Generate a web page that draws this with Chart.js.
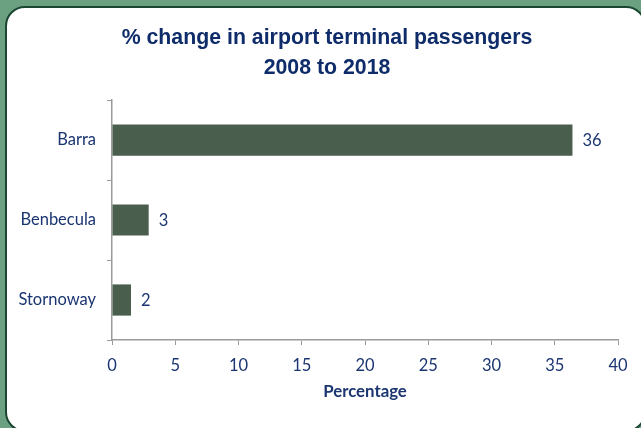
<!DOCTYPE html>
<html>
<head>
<meta charset="utf-8">
<title>% change in airport terminal passengers</title>
<script src="https://cdn.jsdelivr.net/npm/chart.js@4"></script>
<style>
  html, body { margin: 0; padding: 0; }
  body { width: 641px; height: 428px; overflow: hidden; background: #6ba080; position: relative; }
  .panel {
    position: absolute; left: 5px; top: 6px; width: 641px; height: 426px;
    background: #fff; border: 2.5px solid #1b4631; border-radius: 20px; box-sizing: border-box;
  }
  #chart { position: absolute; left: 0; top: 0; }
</style>
</head>
<body>
<div class="panel"></div>
<canvas id="chart" width="641" height="428"></canvas>
<script>
// Airport terminal passengers, % change 2008 to 2018
const airports = ["Barra", "Benbecula", "Stornoway"];
const pctChange = [36.4, 2.9, 1.5];
const xTicks = [0, 5, 10, 15, 20, 25, 30, 35, 40];

const NAVY = "#1a3570";
const AXIS_GREY = "#9a9a9a";
const BAR_GREEN = "#4a5e4e";

// writes the rounded value just past the end of each bar
const barValueLabels = {
  id: "barValueLabels",
  afterDatasetsDraw(chart) {
    const { ctx } = chart;
    const meta = chart.getDatasetMeta(0);
    ctx.save();
    ctx.font = "16.5px Lato";
    ctx.fillStyle = NAVY;
    ctx.textAlign = "left";
    ctx.textBaseline = "middle";
    meta.data.forEach((bar, i) => {
      ctx.fillText(String(Math.round(pctChange[i])), bar.x + 10, bar.y + 1);
    });
    ctx.restore();
  },
};

new Chart(document.getElementById("chart"), {
  type: "bar",
  data: {
    labels: airports,
    datasets: [
      {
        data: pctChange,
        yAxisID: "y",
        backgroundColor: BAR_GREEN,
        barPercentage: 0.39,
        categoryPercentage: 1,
      },
    ],
  },
  options: {
    indexAxis: "y",
    responsive: false,
    animation: false,
    devicePixelRatio: 1,
    layout: { padding: { top: 0, right: 0, bottom: 22, left: 13 } },
    plugins: {
      legend: { display: false },
      tooltip: { enabled: false },
      title: {
        display: true,
        text: ["% change in airport terminal passengers", "2008 to 2018"],
        color: "#0f2c6a",
        font: { family: "'Liberation Sans', Arial", size: 21.3, weight: "bold", lineHeight: 1.4 },
        padding: { top: 23, bottom: 17.4 },
      },
    },
    scales: {
      x: {
        min: 0,
        max: 40,
        afterBuildTicks: (scale) => { scale.ticks = xTicks.map((v) => ({ value: v })); },
        afterFit: (scale) => { scale.height = 66; },
        ticks: { color: NAVY, font: { family: "Lato", size: 16.5 }, padding: 11 },
        grid: { drawOnChartArea: false, tickLength: 5, color: AXIS_GREY },
        border: { color: AXIS_GREY, width: 1.5 },
        title: {
          display: true,
          text: "Percentage",
          color: NAVY,
          font: { family: "Lato", size: 16.8, weight: "bold" },
        },
      },
      y: {
        afterFit: (scale) => { scale.width = 99; },
        ticks: { color: NAVY, font: { family: "Lato", size: 16.5 }, padding: 11 },
        grid: { drawOnChartArea: false, tickLength: 5, color: AXIS_GREY },
        border: { color: AXIS_GREY, width: 1.5 },
      },
      // blank strip on the right: keeps the plot narrower than the title row
      yRight: {
        type: "category",
        position: "right",
        afterFit: (scale) => { scale.width = 23; },
        ticks: { display: false },
        grid: { display: false },
        border: { display: false },
      },
    },
  },
  plugins: [barValueLabels],
});
</script>
</body>
</html>
